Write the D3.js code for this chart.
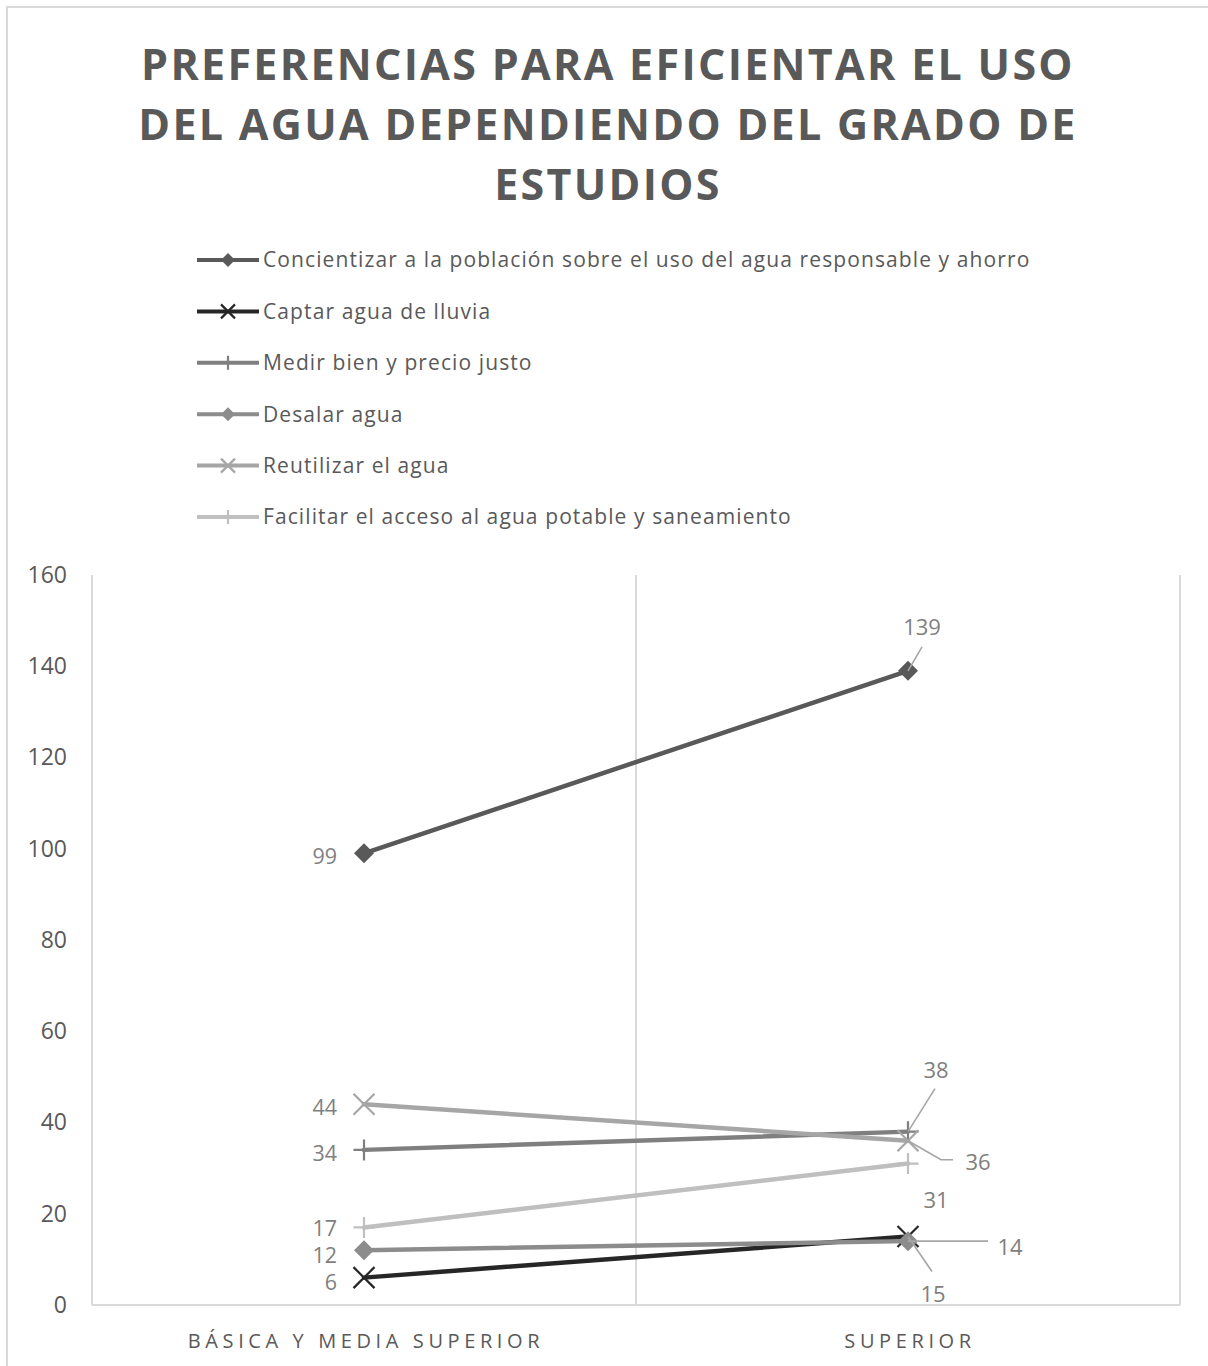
<!DOCTYPE html>
<html>
<head>
<meta charset="utf-8">
<script src="https://cdn.jsdelivr.net/npm/d3@7"></script>
<style>
  html, body { margin: 0; padding: 0; background: #fff; }
  svg { display: block; }
</style>
</head>
<body>
<svg id="chart" width="1208" height="1366"></svg>
<script>
// Education levels on the x axis
const categories = ["BÁSICA Y MEDIA SUPERIOR", "SUPERIOR"];

// One value pair per preference (básica/media superior, superior)
const seriesNames = [
  "Concientizar a la población sobre el uso del agua responsable y ahorro",
  "Captar agua de lluvia",
  "Medir bien y precio justo",
  "Desalar agua",
  "Reutilizar el agua",
  "Facilitar el acceso al agua potable y saneamiento"
];
const concientizar = [99, 139];
const captar = [6, 15];
const medir = [34, 38];
const desalar = [12, 14];
const reutilizar = [44, 36];
const facilitar = [17, 31];

const yTicks = [0, 20, 40, 60, 80, 100, 120, 140, 160];
const titleLines = [
  "PREFERENCIAS PARA EFICIENTAR EL USO",
  "DEL AGUA DEPENDIENDO DEL GRADO DE",
  "ESTUDIOS"
];

const seriesValues = [concientizar, captar, medir, desalar, reutilizar, facilitar];
const seriesColors = ["#595959", "#262626", "#7f7f7f", "#8c8c8c", "#a6a6a6", "#bfbfbf"];
const seriesMarkers = ["diamond", "x", "plus", "diamond", "x", "plus"];

// Label placement for the second category: offset of label centre from the point,
// plus optional leader polyline (offsets from the point).
const rightLabelStyle = [
  { dx: 14, dy: -44, leader: [[0, 0], [14, -24]] },
  { dx: 25, dy: 58, leader: [[0, 0], [24, 35]] },
  { dx: 28, dy: -61, leader: [[0, 0], [27, -43]] },
  { dx: 102, dy: 6, leader: [[0, 0], [80, 0]] },
  { dx: 70, dy: 22, leader: [[0, 0], [33, 19], [45, 19]] },
  { dx: 28, dy: 37, leader: null }
];
// Small vertical nudges for the first-category labels
const leftLabelNudge = [0, 2, 1, 2, 0, -2];

const svg = d3.select("#chart");
const font = "'Open Sans', 'Liberation Sans', sans-serif";
const textColor = "#595959";
const labelColor = "#7f7f7f";
const gridColor = "#d9d9d9";

// Outer chart frame (continues past the right and bottom edges)
svg.append("rect")
  .attr("x", 7).attr("y", 7)
  .attr("width", 1220).attr("height", 1380)
  .attr("fill", "#fff")
  .attr("stroke", gridColor).attr("stroke-width", 2);

// Title
svg.append("g").selectAll("text")
  .data(titleLines)
  .join("text")
  .attr("x", 608)
  .attr("y", (d, i) => 80 + i * 60)
  .attr("text-anchor", "middle")
  .attr("font-family", font)
  .attr("font-weight", 700)
  .attr("font-size", 43)
  .attr("letter-spacing", 2.3)
  .attr("fill", textColor)
  .text(d => d);

// Plot area scales
const plot = { left: 92, right: 1180, top: 575, bottom: 1305 };
const x = d3.scaleBand().domain(categories).range([plot.left, plot.right]).padding(0);
const cx = c => x(c) + x.bandwidth() / 2;
const y = d3.scaleLinear().domain([0, 160]).range([plot.bottom, plot.top]);

// Marker shapes; size is the full width of the marker
const symDiamond = d3.symbol().type(d3.symbolDiamond2);
function drawMarker(g, type, px, py, color, size) {
  if (type === "diamond") {
    // symbolDiamond2 half-diagonal is 0.62625 * sqrt(area)
    const area = Math.pow(size / (2 * 0.62625), 2);
    g.append("path")
      .attr("d", symDiamond.size(area)())
      .attr("transform", `translate(${px},${py})`)
      .attr("fill", color);
  } else if (type === "x") {
    const h = size * 0.5;
    g.append("path")
      .attr("d", `M${px - h},${py - h}L${px + h},${py + h}M${px - h},${py + h}L${px + h},${py - h}`)
      .attr("stroke", color).attr("stroke-width", 2.2).attr("fill", "none");
  } else {
    const h = size * 0.5;
    g.append("path")
      .attr("d", `M${px - h},${py}L${px + h},${py}M${px},${py - h}L${px},${py + h}`)
      .attr("stroke", color).attr("stroke-width", 2.2).attr("fill", "none");
  }
}

// Legend
const legend = svg.append("g");
seriesNames.forEach((name, i) => {
  const ly = 260 + i * 51.4;
  legend.append("line")
    .attr("x1", 197).attr("x2", 259)
    .attr("y1", ly).attr("y2", ly)
    .attr("stroke", seriesColors[i]).attr("stroke-width", 4);
  drawMarker(legend, seriesMarkers[i], 228, ly, seriesColors[i], 14);
  legend.append("text")
    .attr("x", 263).attr("y", ly)
    .attr("dy", "0.35em")
    .attr("font-family", font)
    .attr("font-size", 21)
    .attr("letter-spacing", 1.1)
    .attr("fill", textColor)
    .text(name);
});

// Vertical gridlines at category boundaries
const bounds = [plot.left, x(categories[1]), plot.right];
svg.append("g").selectAll("line")
  .data(bounds)
  .join("line")
  .attr("x1", d => d).attr("x2", d => d)
  .attr("y1", plot.top).attr("y2", plot.bottom)
  .attr("stroke", gridColor).attr("stroke-width", 2);

// Horizontal base line
svg.append("line")
  .attr("x1", plot.left).attr("x2", plot.right)
  .attr("y1", plot.bottom).attr("y2", plot.bottom)
  .attr("stroke", gridColor).attr("stroke-width", 2);

// Y axis tick labels
const yAxis = d3.axisLeft(y).tickValues(yTicks).tickSize(0).tickPadding(0);
const yg = svg.append("g").attr("transform", "translate(67,0)").call(yAxis);
yg.select(".domain").remove();
yg.selectAll("text")
  .attr("font-family", font)
  .attr("font-size", 23)
  .attr("fill", textColor);

// X axis category labels
const xAxis = d3.axisBottom(x).tickSize(0).tickPadding(0);
const xg = svg.append("g").attr("transform", "translate(0,1348)").call(xAxis);
xg.select(".domain").remove();
xg.selectAll("text")
  .attr("font-family", font)
  .attr("font-size", 20)
  .attr("dy", 0)
  .attr("dx", 2)
  .attr("letter-spacing", 4.6)
  .attr("fill", textColor);

// Series lines, markers and value labels
const line = d3.line().x((d, i) => cx(categories[i])).y(d => y(d));
const marks = svg.append("g");
const labels = svg.append("g");
seriesValues.forEach((vals, si) => {
  marks.append("path")
    .datum(vals)
    .attr("d", line)
    .attr("fill", "none")
    .attr("stroke", seriesColors[si])
    .attr("stroke-width", 4.5)
    .attr("stroke-linecap", "round");
});
seriesValues.forEach((vals, si) => {
  vals.forEach((v, ci) => {
    drawMarker(marks, seriesMarkers[si], cx(categories[ci]), y(v), seriesColors[si],
      seriesMarkers[si] === "diamond" ? 20 : 21);
  });
});
seriesValues.forEach((vals, si) => {
  // first category: labels to the left of the point
  const p0x = cx(categories[0]), p0y = y(vals[0]);
  labels.append("text")
    .attr("x", p0x - 27).attr("y", p0y + 3 + leftLabelNudge[si])
    .attr("dy", "0.35em")
    .attr("text-anchor", "end")
    .attr("font-family", font).attr("font-size", 21.5)
    .attr("fill", labelColor)
    .text(vals[0]);
  // second category: offset labels with leader lines
  const p1x = cx(categories[1]), p1y = y(vals[1]);
  const st = rightLabelStyle[si];
  if (st.leader) {
    labels.append("path")
      .attr("d", d3.line()(st.leader.map(([a, b]) => [p1x + a, p1y + b])))
      .attr("fill", "none")
      .attr("stroke", "#a6a6a6").attr("stroke-width", 1.6);
  }
  labels.append("text")
    .attr("x", p1x + st.dx).attr("y", p1y + st.dy)
    .attr("dy", "0.35em")
    .attr("text-anchor", "middle")
    .attr("font-family", font).attr("font-size", 22)
    .attr("fill", labelColor)
    .text(vals[1]);
});
</script>
</body>
</html>
